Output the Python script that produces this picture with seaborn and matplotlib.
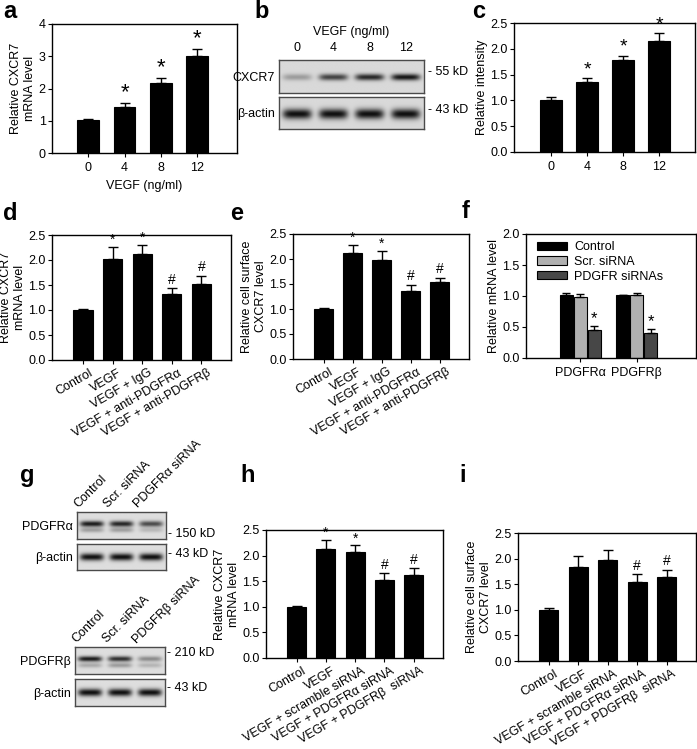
import numpy as np
import pandas as pd
import matplotlib
matplotlib.use("Agg")
import matplotlib.pyplot as plt
import matplotlib.transforms as mtrans
import seaborn as sns

# ---------------- data ----------------
# panel a
a_cats = ["0", "4", "8", "12"]
a_vals = [1.02, 1.43, 2.17, 3.00]
a_errs = [0.03, 0.13, 0.15, 0.22]
a_marks = ["", "*", "*", "*"]

# panel b (band intensities, relative)
b_lanes = ["0", "4", "8", "12"]
b_cxcr7 = [0.30, 0.75, 0.88, 0.97]
b_actin = [1.0, 1.0, 1.0, 1.0]

# panel c
c_cats = ["0", "4", "8", "12"]
c_vals = [1.00, 1.36, 1.79, 2.16]
c_errs = [0.06, 0.07, 0.08, 0.14]
c_marks = ["", "*", "*", "*"]

# panel d
de_cats = ["Control", "VEGF", "VEGF + IgG", "VEGF + anti-PDGFRα", "VEGF + anti-PDGFRβ"]
d_vals = [1.00, 2.03, 2.13, 1.32, 1.53]
d_errs = [0.02, 0.23, 0.18, 0.12, 0.16]
d_marks = ["", "*", "*", "#", "#"]

# panel e
e_vals = [1.00, 2.12, 1.98, 1.37, 1.54]
e_errs = [0.03, 0.17, 0.18, 0.12, 0.09]
e_marks = ["", "*", "*", "#", "#"]

# panel f
f_genes = ["PDGFRα", "PDGFRβ"]
f_groups = ["Control", "Scr. siRNA", "PDGFR siRNAs"]
f_control = [1.02, 1.01]
f_scr = [0.99, 1.02]
f_sirna = [0.45, 0.40]
f_control_err = [0.03, 0.01]
f_scr_err = [0.04, 0.03]
f_sirna_err = [0.06, 0.06]
f_marks = ["*", "*"]

# panel g (band intensities)
g_lanes_a = ["Control", "Scr. siRNA", "PDGFRα siRNA"]
g_pdgfra = [0.95, 0.90, 0.72]
g_pdgfra_lower = [0.30, 0.30, 0.18]
g_actin_a = [1.0, 1.0, 1.0]
g_lanes_b = ["Control", "Scr. siRNA", "PDGFRβ siRNA"]
g_pdgfrb = [0.95, 0.85, 0.40]
g_pdgfrb_lower = [0.25, 0.32, 0.20]
g_actin_b = [1.0, 1.0, 1.0]

# panel h
hi_cats = ["Control", "VEGF", "VEGF + scramble siRNA", "VEGF + PDGFRα siRNA", "VEGF + PDGFRβ  siRNA"]
h_vals = [1.00, 2.12, 2.08, 1.52, 1.63]
h_errs = [0.02, 0.18, 0.12, 0.14, 0.12]
h_marks = ["", "*", "*", "#", "#"]

# panel i
i_vals = [1.00, 1.83, 1.98, 1.54, 1.65]
i_errs = [0.03, 0.22, 0.18, 0.15, 0.13]
i_marks = ["", "", "", "#", "#"]

# ---------------- style ----------------
FS = 9
sns.set_style("ticks")
plt.rcParams["font.family"] = ["Liberation Sans", "DejaVu Sans"]
plt.rcParams["font.size"] = FS
plt.rcParams["axes.linewidth"] = 1.0
plt.rcParams["xtick.direction"] = "out"
plt.rcParams["ytick.direction"] = "out"
plt.rcParams["xtick.major.size"] = 3
plt.rcParams["ytick.major.size"] = 3
plt.rcParams["xtick.major.width"] = 0.8
plt.rcParams["ytick.major.width"] = 0.8
plt.rcParams["ytick.major.pad"] = 1.5
plt.rcParams["xtick.color"] = "black"
plt.rcParams["ytick.color"] = "black"
plt.rcParams["axes.edgecolor"] = "black"
plt.rcParams["text.color"] = "black"
plt.rcParams["axes.labelcolor"] = "black"

W, H = 697, 749
fig = plt.figure(figsize=(W / 100, H / 100), dpi=100)


def px_axes(x0, y0, x1, y1):
    return fig.add_axes([x0 / W, 1 - y1 / H, (x1 - x0) / W, (y1 - y0) / H])


def finish_box(ax):
    for s in ax.spines.values():
        s.set_visible(True)
        s.set_linewidth(1.0)
        s.set_color("black")


def bar_panel(ax, cats, vals, errs, marks, ylim, yticks, fmt, ylabel, xlim,
              width, mark_size, rot=None, xlabel=None):
    sns.barplot(x=cats, y=vals, order=cats, color="black", saturation=1,
                width=width, edgecolor="black", linewidth=0.8, ax=ax)
    n = len(cats)
    pos = np.arange(n)
    ax.errorbar(pos, vals, yerr=[np.zeros(n), errs], fmt="none", ecolor="black",
                elinewidth=1.0, capsize=3.5, capthick=1.0, zorder=3)
    for p, v, e, m in zip(pos, vals, errs, marks):
        if m:
            ax.annotate(m, (p, v + e), xytext=(0, 0 if m == "*" else 1),
                        textcoords="offset points", ha="center", va="bottom",
                        fontsize=mark_size)
    ax.set_ylim(*ylim)
    ax.set_yticks(yticks)
    ax.set_yticklabels([fmt.format(t) for t in yticks])
    ax.set_xlim(*xlim)
    ax.set_ylabel(ylabel, labelpad=2)
    ax.set_xlabel(xlabel if xlabel else "")
    ax.tick_params(axis="both", labelsize=FS, top=False, right=False)
    ax.tick_params(axis="y", pad=1.5)
    if rot is not None:
        ax.set_xticks(pos)
        ax.set_xticklabels(cats, rotation=rot, ha="right", rotation_mode="anchor")
        ax.tick_params(axis="x", pad=2)
        off = mtrans.ScaledTranslation(4 / 72, 0, fig.dpi_scale_trans)
        for lbl in ax.get_xticklabels():
            lbl.set_transform(lbl.get_transform() + off)
    finish_box(ax)


def blot(ax, main, band_y, sigma, lower=None, lower_y=None, lower_sigma=None,
         bg=0.86, lane_w=0.8):
    n = len(main)
    xs = np.linspace(0, n, 400)
    ys = np.linspace(0, 1, 120)
    img = np.full((ys.size, xs.size), bg)
    for i, s in enumerate(main):
        px = np.exp(-np.abs((xs - (i + 0.5)) / (lane_w / 2)) ** 5)
        py = np.exp(-((ys - band_y) / sigma) ** 2)
        img -= (bg - 0.06) * s * np.outer(py, px)
    if lower is not None:
        for i, s in enumerate(lower):
            px = np.exp(-np.abs((xs - (i + 0.5)) / (lane_w / 2)) ** 5)
            py = np.exp(-((ys - lower_y) / lower_sigma) ** 2)
            img -= (bg - 0.06) * s * np.outer(py, px)
    img = np.clip(img, 0, 1)
    ax.imshow(img, extent=[0, n, 0, 1], origin="lower", cmap="gray", vmin=0,
              vmax=1, aspect="auto", interpolation="bilinear")
    ax.set_xlim(0, n)
    ax.set_ylim(0, 1)
    for s in ax.spines.values():
        s.set_visible(True)
        s.set_color("#4a4a4a")
        s.set_linewidth(1.0)


def blot_labels(ax, name, kd, kd_y):
    ax.set_yticks([0.5])
    ax.set_yticklabels([name])
    ax.tick_params(axis="y", length=0, pad=3, labelsize=FS)
    ax.tick_params(axis="x", length=0, bottom=False, labelbottom=False)
    ax.text(1.025, kd_y, "- " + kd, transform=ax.transAxes, ha="left",
            va="center", fontsize=FS)


# ---------------- panel a ----------------
ax_a = px_axes(52, 24, 237, 153)
bar_panel(ax_a, a_cats, a_vals, a_errs, a_marks, (0, 4), [0, 1, 2, 3, 4], "{:.0f}",
          "Relative CXCR7\nmRNA level", (-1.0, 4.1), 0.6, 16, xlabel="VEGF (ng/ml)")

# ---------------- panel b ----------------
ax_b1 = px_axes(279, 60, 424, 93)
blot(ax_b1, b_cxcr7, 0.48, 0.10, bg=0.85)
blot_labels(ax_b1, "CXCR7", "55 kD", 0.64)
ax_b1.set_xticks(np.arange(len(b_lanes)) + 0.5)
ax_b1.set_xticklabels(b_lanes)
ax_b1.tick_params(axis="x", top=True, labeltop=True, length=0, pad=4)
ax_b1.set_xlabel("VEGF (ng/ml)", labelpad=5)
ax_b1.xaxis.set_label_position("top")

ax_b2 = px_axes(279, 97, 424, 129)
blot(ax_b2, b_actin, 0.47, 0.16, bg=0.85)
blot_labels(ax_b2, "β-actin", "43 kD", 0.60)
ax_b2.set_xticks([])

# ---------------- panel c ----------------
ax_c = px_axes(514, 23, 695, 152)
bar_panel(ax_c, c_cats, c_vals, c_errs, c_marks, (0, 2.5),
          [0, 0.5, 1.0, 1.5, 2.0, 2.5], "{:.1f}", "Relative intensity",
          (-1.03, 4.0), 0.6, 14)

# ---------------- panel d ----------------
ax_d = px_axes(52, 235, 231, 360)
bar_panel(ax_d, de_cats, d_vals, d_errs, d_marks, (0, 2.5),
          [0, 0.5, 1.0, 1.5, 2.0, 2.5], "{:.1f}", "Relative CXCR7\nmRNA level",
          (-1.05, 5.0), 0.65, 10, rot=30)

# ---------------- panel e ----------------
ax_e = px_axes(293, 234, 469, 359)
bar_panel(ax_e, de_cats, e_vals, e_errs, e_marks, (0, 2.5),
          [0, 0.5, 1.0, 1.5, 2.0, 2.5], "{:.1f}", "Relative cell surface\nCXCR7 level",
          (-1.05, 5.0), 0.65, 10, rot=30)

# ---------------- panel f ----------------
ax_f = px_axes(526, 234, 696, 358)
f_df = pd.DataFrame({
    "gene": f_genes * 3,
    "group": [f_groups[0]] * 2 + [f_groups[1]] * 2 + [f_groups[2]] * 2,
    "value": f_control + f_scr + f_sirna,
})
sns.barplot(data=f_df, x="gene", y="value", hue="group", order=f_genes,
            hue_order=f_groups, palette=["#000000", "#b0b0b0", "#474747"],
            saturation=1, width=0.75, gap=0.12, edgecolor="black", linewidth=0.8,
            ax=ax_f)
f_err_all = [f_control_err, f_scr_err, f_sirna_err]
for k, (cont, errs) in enumerate(zip(ax_f.containers, f_err_all)):
    for j, (bar, e) in enumerate(zip(cont, errs)):
        xc = bar.get_x() + bar.get_width() / 2
        hgt = bar.get_height()
        ax_f.errorbar([xc], [hgt], yerr=[[0], [e]], fmt="none", ecolor="black",
                      elinewidth=1.0, capsize=3, capthick=1.0, zorder=3)
        if k == 2:
            ax_f.annotate(f_marks[j], (xc, hgt + e), xytext=(0, 0),
                          textcoords="offset points", ha="center", va="bottom",
                          fontsize=12)
ax_f.set_ylim(0, 2.0)
ax_f.set_yticks([0, 0.5, 1.0, 1.5, 2.0])
ax_f.set_yticklabels(["0.0", "0.5", "1.0", "1.5", "2.0"])
ax_f.set_xlim(-0.97, 2.06)
ax_f.set_xlabel("")
ax_f.set_ylabel("Relative mRNA level", labelpad=2)
ax_f.tick_params(axis="both", labelsize=FS, top=False, right=False)
ax_f.tick_params(axis="y", pad=1.5)
handles, labels = ax_f.get_legend_handles_labels()
ax_f.legend(handles, labels, frameon=False, loc="upper left", fontsize=FS,
            handlelength=2.4, handleheight=0.65, labelspacing=0.2,
            borderaxespad=0.2, handletextpad=0.6, bbox_to_anchor=(0.02, 1.0))
finish_box(ax_f)

# ---------------- panel g ----------------
ax_g1 = px_axes(77, 512, 166, 539)
blot(ax_g1, g_pdgfra, 0.56, 0.11, lower=g_pdgfra_lower, lower_y=0.33,
     lower_sigma=0.09, bg=0.87)
blot_labels(ax_g1, "PDGFRα", "150 kD", 0.19)
ax_g1.set_xticks(np.arange(3) + 0.5)
ax_g1.set_xticklabels(g_lanes_a, rotation=45, ha="left", va="bottom",
                      rotation_mode="anchor")
ax_g1.tick_params(axis="x", top=True, labeltop=True, length=0, pad=1)
off = mtrans.ScaledTranslation(-8 / 72, 0, fig.dpi_scale_trans)
for lbl in ax_g1.get_xticklabels():
    lbl.set_transform(lbl.get_transform() + off)

ax_g2 = px_axes(77, 544, 166, 570)
blot(ax_g2, g_actin_a, 0.50, 0.14, bg=0.87)
blot_labels(ax_g2, "β-actin", "43 kD", 0.62)
ax_g2.set_xticks([])

ax_g3 = px_axes(75, 647, 165, 674)
blot(ax_g3, g_pdgfrb, 0.56, 0.10, lower=g_pdgfrb_lower, lower_y=0.32,
     lower_sigma=0.09, bg=0.87)
blot_labels(ax_g3, "PDGFRβ", "210 kD", 0.78)
ax_g3.set_xticks(np.arange(3) + 0.5)
ax_g3.set_xticklabels(g_lanes_b, rotation=45, ha="left", va="bottom",
                      rotation_mode="anchor")
ax_g3.tick_params(axis="x", top=True, labeltop=True, length=0, pad=1)
for lbl in ax_g3.get_xticklabels():
    lbl.set_transform(lbl.get_transform() + off)

ax_g4 = px_axes(75, 679, 165, 706)
blot(ax_g4, g_actin_b, 0.50, 0.14, bg=0.87)
blot_labels(ax_g4, "β-actin", "43 kD", 0.67)
ax_g4.set_xticks([])

# ---------------- panel h ----------------
ax_h = px_axes(266, 530, 443, 658)
bar_panel(ax_h, hi_cats, h_vals, h_errs, h_marks, (0, 2.5),
          [0, 0.5, 1.0, 1.5, 2.0, 2.5], "{:.1f}", "Relative CXCR7\nmRNA level",
          (-1.05, 5.0), 0.65, 10, rot=30)

# ---------------- panel i ----------------
ax_i = px_axes(518, 533, 696, 661)
bar_panel(ax_i, hi_cats, i_vals, i_errs, i_marks, (0, 2.5),
          [0, 0.5, 1.0, 1.5, 2.0, 2.5], "{:.1f}", "Relative cell surface\nCXCR7 level",
          (-1.05, 5.0), 0.65, 10, rot=30)

# ---------------- panel letters ----------------
for letter, x, y in [("a", 10, 11), ("b", 262, 11), ("c", 479, 12), ("d", 10, 213),
                     ("e", 237, 213), ("f", 466, 212), ("g", 27, 475),
                     ("h", 248, 475), ("i", 463, 475)]:
    fig.text(x / W, 1 - y / H, letter, fontsize=17, fontweight="bold",
             ha="center", va="center")

fig.savefig("out.png", dpi=100)
